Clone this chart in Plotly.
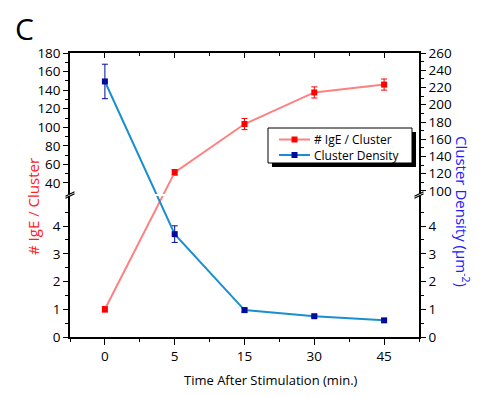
import plotly.graph_objects as go

# ---- data ----
time_labels = ["0", "5", "15", "30", "45"]
ige_per_cluster = [1.0, 51.5, 103.5, 137.5, 146.0]
ige_err = [0.1, 3.0, 6.0, 6.0, 6.0]
cluster_density = [227.0, 3.71, 0.97, 0.75, 0.60]
density_err = [20.0, 0.30, 0.07, 0.05, 0.05]
series_names = ["# IgE / Cluster", "Cluster Density"]

left_major_low = [0, 1, 2, 3, 4]
left_major_high = [40, 60, 80, 100, 120, 140, 160, 180]
left_minor_low = [0.5, 1.5, 2.5, 3.5, 4.5]
left_minor_high = [50, 70, 90, 110, 130, 150, 170]
right_major_low = [0, 1, 2, 3, 4]
right_major_high = [100, 120, 140, 160, 180, 200, 220, 240, 260]
right_minor_low = [0.5, 1.5, 2.5, 3.5, 4.5]
right_minor_high = [110, 130, 150, 170, 190, 210, 230, 250]

# ---- broken-axis scale settings ----
LOW_DOM = 0.495
HIGH_DOM = 0.505
left_low = (0.0, 5.07)
left_high = (28.6, 180.0)
right_low = (0.0, 5.07)
right_high = (97.0, 260.0)


def brk(v, low, high):
    if v <= low[1]:
        return (v - low[0]) / (low[1] - low[0]) * LOW_DOM
    return HIGH_DOM + (v - high[0]) / (high[1] - high[0]) * (1 - HIGH_DOM)


def tr(vals, low, high):
    return [brk(v, low, high) for v in vals]


xi = list(range(len(time_labels)))

red_line = "#ff8080"
red_mark = "#ff0000"
blue_line = "#1a8fd0"
blue_mark = "#000a9c"

ige_d = tr(ige_per_cluster, left_low, left_high)
ige_up = [brk(v + e, left_low, left_high) - d for v, e, d in zip(ige_per_cluster, ige_err, ige_d)]
ige_dn = [d - brk(v - e, left_low, left_high) for v, e, d in zip(ige_per_cluster, ige_err, ige_d)]
den_d = tr(cluster_density, right_low, right_high)
den_up = [brk(v + e, right_low, right_high) - d for v, e, d in zip(cluster_density, density_err, den_d)]
den_dn = [d - brk(v - e, right_low, right_high) for v, e, d in zip(cluster_density, density_err, den_d)]

fig = go.Figure()
fig.add_trace(go.Scatter(
    x=xi, y=ige_d, name=series_names[0], mode="lines+markers",
    line=dict(color=red_line, width=2),
    marker=dict(symbol="square", size=6, color=red_mark),
    error_y=dict(type="data", array=ige_up, arrayminus=ige_dn, color=red_mark, thickness=1, width=3),
    xaxis="x", yaxis="y", showlegend=False,
))
fig.add_trace(go.Scatter(
    x=xi, y=den_d, name=series_names[1], mode="lines+markers",
    line=dict(color=blue_line, width=2),
    marker=dict(symbol="square", size=6, color=blue_mark),
    error_y=dict(type="data", array=den_up, arrayminus=den_dn, color=blue_mark, thickness=1, width=3),
    xaxis="x", yaxis="y2", showlegend=False,
))
fig.add_trace(go.Scatter(x=[0], y=[0], xaxis="x2", yaxis="y", mode="markers",
                         marker=dict(opacity=0), showlegend=False, hoverinfo="skip"))

FONT = "Open Sans, Noto Sans, sans-serif"
tickfont = dict(family=FONT, size=13.5, color="black")

# page body has an 8px offset; figure coordinates below are reference pixels minus 8
OFF = 8
W, H = 480 - OFF, 396 - OFF
PL, PR, PT, PB = 70, 419, 53, 337  # plot area in reference pixels


def px(X):
    return (X - PL) / (PR - PL)


def py(Y):
    return (PB - Y) / (PB - PT)


fig.update_layout(
    width=W, height=H,
    margin=dict(l=PL - OFF, r=W - (PR - OFF), t=PT - OFF, b=H - (PB - OFF)),
    paper_bgcolor="white", plot_bgcolor="white",
    showlegend=False,
    xaxis=dict(range=[-0.5, 4.5], tickmode="array", tickvals=xi, ticktext=time_labels,
               showline=True, linecolor="black", linewidth=1.5, ticks="outside",
               ticklen=6, tickwidth=1.2, tickcolor="black", showgrid=False, zeroline=False,
               tickfont=tickfont, fixedrange=True,
               minor=dict(tickmode="array", tickvals=[i + 0.5 for i in range(-1, 5)],
                          ticks="outside", ticklen=3, tickwidth=1, tickcolor="black")),
    xaxis2=dict(range=[-0.5, 4.5], overlaying="x", side="top", matches="x",
                tickmode="array", tickvals=xi, showticklabels=False,
                showline=True, linecolor="black", linewidth=1.5, ticks="inside",
                ticklen=5, tickwidth=1.2, tickcolor="black", showgrid=False, zeroline=False,
                minor=dict(tickmode="array", tickvals=[i + 0.5 for i in range(-1, 5)],
                           ticks="inside", ticklen=3, tickwidth=1, tickcolor="black")),
    yaxis=dict(range=[0, 1], tickmode="array",
               tickvals=tr(left_major_low, left_low, left_high) + tr(left_major_high, left_low, left_high),
               ticktext=[str(v) for v in left_major_low] + [str(v) for v in left_major_high],
               showline=True, linecolor="black", linewidth=1.5, ticks="outside",
               ticklen=5, tickwidth=1.2, tickcolor="black", showgrid=False, zeroline=False,
               tickfont=tickfont, fixedrange=True,
               minor=dict(tickmode="array",
                          tickvals=tr(left_minor_low, left_low, left_high) + tr(left_minor_high, left_low, left_high),
                          ticks="outside", ticklen=3, tickwidth=1, tickcolor="black")),
    yaxis2=dict(range=[0, 1], overlaying="y", side="right", tickmode="array",
                tickvals=tr(right_major_low, right_low, right_high) + tr(right_major_high, right_low, right_high),
                ticktext=[str(v) for v in right_major_low] + [str(v) for v in right_major_high],
                showline=True, linecolor="black", linewidth=1.5, ticks="outside",
                ticklen=5, tickwidth=1.2, tickcolor="black", showgrid=False, zeroline=False,
                tickfont=tickfont, fixedrange=True,
                minor=dict(tickmode="array",
                           tickvals=tr(right_minor_low, right_low, right_high) + tr(right_minor_high, right_low, right_high),
                           ticks="outside", ticklen=3, tickwidth=1, tickcolor="black")),
)

# ---- legend box (drawn manually) ----
LX0, LX1, LY0, LY1 = 268, 412, 128, 163
fig.add_shape(type="rect", xref="paper", yref="paper",
              x0=px(LX0 + 4), x1=px(LX1 + 4), y0=py(LY1 + 4), y1=py(LY0 + 4),
              fillcolor="black", line=dict(width=0), layer="above")
fig.add_shape(type="rect", xref="paper", yref="paper",
              x0=px(LX0), x1=px(LX1), y0=py(LY1), y1=py(LY0),
              fillcolor="white", line=dict(color="black", width=1), layer="above")
for yc, lc, mc in ((139.5, red_line, red_mark), (155.0, blue_line, blue_mark)):
    fig.add_shape(type="line", xref="paper", yref="paper",
                  x0=px(279), x1=px(310), y0=py(yc), y1=py(yc),
                  line=dict(color=lc, width=2), layer="above")
    fig.add_shape(type="rect", xref="paper", yref="paper",
                  x0=px(291.5), x1=px(297.5), y0=py(yc + 3), y1=py(yc - 3),
                  fillcolor=mc, line=dict(width=0), layer="above")
fig.add_annotation(text="<br>".join(series_names), xref="paper", yref="paper",
                   x=px(312), y=py(147.3), showarrow=False, xanchor="left", yanchor="middle",
                   align="left", font=dict(family=FONT, size=12, color="black"))

# ---- break gap and marks ----
gap0, gap1 = 0.4965, 0.5035
fig.add_shape(type="rect", xref="paper", yref="paper", x0=-0.03, x1=1.03, y0=gap0, y1=gap1,
              fillcolor="white", line=dict(width=0), layer="above")
for xc in (0.0, 1.0):
    for yc in (gap0, gap1):
        fig.add_shape(type="line", xref="paper", yref="paper",
                      x0=xc - 0.013, x1=xc + 0.013, y0=yc - 0.008, y1=yc + 0.008,
                      line=dict(color="black", width=1.3), layer="above")

# ---- titles ----
fig.add_annotation(text="Time After Stimulation (min.)", xref="paper", yref="paper",
                   x=px(271), y=py(380), showarrow=False,
                   font=dict(family=FONT, size=13, color="black"), xanchor="center", yanchor="middle")
fig.add_annotation(text="# IgE / Cluster", xref="paper", yref="paper",
                   x=px(33), y=py(207), showarrow=False, textangle=-90,
                   font=dict(family=FONT, size=15, color="#ff2020"), xanchor="center", yanchor="middle")
fig.add_annotation(text="Cluster Density (μm<sup>-2</sup>)", xref="paper", yref="paper",
                   x=px(462), y=py(211), showarrow=False, textangle=90,
                   font=dict(family=FONT, size=15, color="#2020ff"), xanchor="center", yanchor="middle")
fig.add_annotation(text="C", xref="paper", yref="paper",
                   x=px(13), y=py(29), showarrow=False,
                   font=dict(family=FONT, size=30, color="black"), xanchor="left", yanchor="middle")

fig.write_html("out.html")
